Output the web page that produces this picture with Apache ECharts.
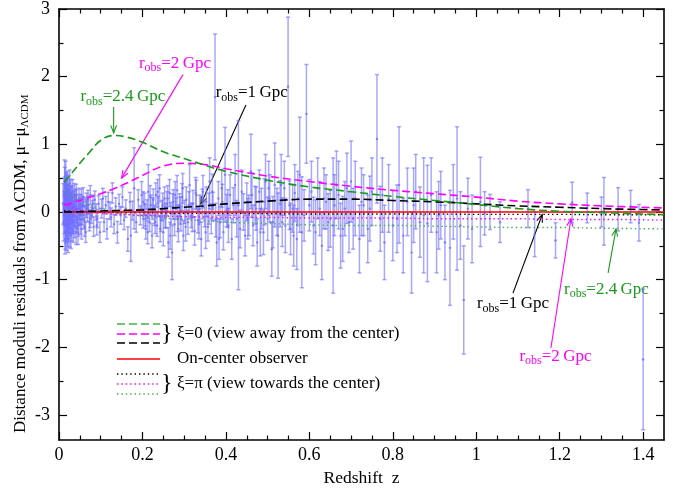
<!DOCTYPE html>
<html><head><meta charset="utf-8">
<script src="https://cdn.jsdelivr.net/npm/echarts@6/dist/echarts.min.js"></script>
<style>html,body{margin:0;padding:0;background:#fff}#c{width:688px;height:493px}</style>
</head><body><div id="c"></div>
<script>
// ---------- data ----------
const xMajor = [0, 0.2, 0.4, 0.6, 0.8, 1, 1.2, 1.4];
const xMinor = [0.05,0.1,0.15,0.25,0.3,0.35,0.45,0.5,0.55,0.65,0.7,0.75,0.85,0.9,0.95,1.05,1.1,1.15,1.25,1.3,1.35];
const yMajor = [-3, -2, -1, 0, 1, 2, 3];
const yMinor = [-2.5, -1.5, -0.5, 0.5, 1.5, 2.5];

const snZ = [
0.010,0.011,0.012,0.013,0.014,0.015,0.015,0.016,0.016,0.017,0.018,0.018,0.019,0.020,0.020,0.021,0.022,0.023,0.023,0.024,
0.025,0.026,0.026,0.027,0.028,0.029,0.030,0.031,0.032,0.033,0.034,0.035,0.036,0.037,0.038,0.040,0.041,0.042,0.044,0.045,
0.047,0.048,0.050,0.052,0.054,0.056,0.058,0.060,0.062,0.064,0.066,0.068,0.070,0.073,0.075,0.078,0.080,0.083,0.086,0.089,
0.092,0.095,0.098,
0.102,0.105,0.108,0.112,0.115,0.118,0.122,0.125,0.128,0.132,0.136,0.140,0.144,0.148,0.152,0.156,0.160,0.165,0.170,0.172,
0.176,0.180,0.185,0.190,0.195,0.198,
0.202,0.205,0.208,0.211,0.214,0.217,0.220,0.223,0.226,0.229,0.232,0.235,0.238,0.241,0.244,0.247,0.250,0.253,0.256,0.259,
0.262,0.265,0.268,0.271,0.274,0.277,0.280,0.283,0.286,0.289,0.292,0.295,0.298,0.301,0.305,0.309,0.313,0.317,0.321,0.325,
0.329,0.333,0.337,0.341,0.345,0.349,0.353,0.357,0.361,0.365,0.369,0.374,0.378,0.382,0.386,0.390,0.394,0.398,0.402,0.406,
0.410,0.414,0.418,0.422,0.426,0.430,0.434,0.438,0.442,0.446,
0.450,0.455,0.460,0.465,0.470,0.475,0.480,0.485,0.490,0.495,0.500,0.505,0.510,0.517,0.525,0.530,0.535,0.540,0.549,0.555,
0.560,0.565,0.570,0.577,0.582,0.593,0.600,0.610,0.620,0.630,0.640,0.650,0.657,0.665,0.675,0.685,0.695,0.700,0.710,0.720,
0.730,0.740,0.750,0.762,0.770,0.780,0.790,0.800,0.815,0.825,0.835,0.845,0.855,0.865,0.874,0.883,0.892,0.905,0.915,0.925,
0.937,0.945,0.954,0.962,0.970,0.980,0.990,
1.010,1.020,1.033,1.057,1.124,1.140,1.190,1.230,1.266,1.300,1.306,1.340,1.370,1.390,1.400,
0.0125,0.0135,0.0145,0.0155,0.0165,0.0175,0.0185,0.0195,0.0205,0.0215,0.0225,0.0235,0.0245,0.0255,0.0265,0.0275,0.0285,0.0295,0.0305,0.0315,
0.0325,0.0345,0.0365,0.0385,0.0395,0.0415,0.0435,0.0455,0.0475,0.0495,0.0515,0.0535,0.0555,0.0575,0.0615,0.0655,0.0695,0.0745,0.0815,0.0905,
0.2015,0.2065,0.2125,0.2185,0.2245,0.2305,0.2365,0.2425,0.2485,0.2545,0.2605,0.2665,0.2725,0.2785,0.2845,0.2905,0.2965,0.3035,0.3115,0.3195,
0.3275,0.3355,0.3435,0.3515,0.3595,0.3675,0.3755,0.3835,0.3915,0.4045,
0.4525,0.4625,0.4725,0.4825,0.4925,0.5025,0.5125,0.5225,0.5325,0.5425,0.5525,0.5625,0.5725,0.5875,0.6050,0.6150,0.6250,0.6350,0.6450,0.6600,
0.6700,0.6800,0.6900,0.7050,0.7250,0.7450,0.7750,0.8100,0.8500,0.9100
];
const snMu = [
0.12,-0.15,0.25,-0.05,0.38,-0.30,0.10,0.45,-0.20,0.05,-0.35,0.30,0.15,-0.10,0.40,-0.28,0.20,0.05,-0.18,0.32,
-0.05,0.18,-0.32,0.08,0.28,-0.12,0.12,-0.25,0.22,0.00,-0.15,0.15,-0.05,0.25,-0.22,0.08,-0.30,0.18,-0.10,0.05,
-0.20,0.20,-0.05,0.12,-0.25,0.02,0.22,-0.12,0.08,-0.30,0.15,-0.02,0.10,-0.15,0.25,-0.05,0.05,-0.22,0.18,0.00,
-0.10,0.12,-0.30,
0.05,0.20,-0.15,0.10,-0.25,0.15,0.02,-0.08,0.28,-0.18,0.08,-0.30,0.12,-0.05,0.22,-0.12,0.05,-0.40,0.15,-0.35,
0.02,0.35,-0.15,0.18,-0.05,0.25,
-0.10,0.12,-0.25,0.05,0.30,-0.15,0.10,-0.35,0.18,-0.05,0.25,-0.20,0.08,0.35,-0.12,0.02,-0.30,0.20,-0.08,0.12,
-0.45,0.28,-0.02,-0.60,0.15,-0.18,0.05,0.32,-0.25,0.10,-0.10,0.22,-0.35,0.00,0.18,-0.15,0.40,-0.05,0.12,-0.28,
0.25,-0.12,0.05,-0.40,0.30,-0.02,0.15,-0.22,0.45,-0.10,0.08,1.70,-0.45,0.20,-0.15,0.35,-0.30,0.55,0.02,-0.20,
0.25,-0.40,0.10,0.40,-0.10,0.10,-0.25,0.30,0.00,-0.35,
0.15,-0.05,0.60,-0.20,0.10,-0.45,0.30,0.05,-0.30,0.45,-0.10,0.20,-0.55,0.40,-0.35,0.12,-0.15,0.35,1.85,-0.25,
0.05,0.28,-0.40,0.55,-0.30,1.45,0.10,-0.20,0.35,-0.50,0.15,-0.10,-0.20,0.40,-0.35,0.05,-0.15,0.45,0.20,-0.40,
0.10,-0.25,0.30,1.08,-0.10,-0.45,0.20,-0.20,0.40,-0.35,0.15,-0.60,0.30,-0.15,-0.05,-0.17,0.25,-0.30,0.10,-0.45,
-0.53,0.15,0.20,-0.20,-1.30,0.05,-0.25,
0.15,-0.02,0.00,-0.15,0.05,-0.33,-0.42,0.14,0.06,0.00,0.01,0.04,0.08,-0.16,-2.18,
0.05,0.52,-0.40,0.22,-0.08,0.35,-0.22,0.02,0.28,-0.40,0.10,-0.25,0.15,0.42,-0.12,0.00,-0.35,0.20,0.05,-0.15,
0.30,-0.28,0.10,0.18,-0.08,0.25,-0.15,-0.32,0.12,0.02,-0.18,0.20,-0.05,0.10,-0.22,0.05,0.18,-0.10,0.12,-0.20,
0.15,-0.05,-0.30,0.22,0.05,-0.15,0.30,-0.25,0.10,-0.05,0.20,-0.35,0.08,0.25,-0.10,0.02,0.35,-0.22,0.10,-0.08,
0.28,-0.18,0.12,-0.30,0.05,0.30,-0.12,-0.40,0.15,0.05,
-0.10,0.25,0.05,-0.30,0.15,0.35,-0.15,0.00,0.40,-0.20,0.10,-0.35,0.20,-0.05,0.30,-0.30,0.05,0.20,-0.15,0.10,
0.25,-0.25,0.35,-0.10,0.15,0.05,0.25,-0.10,0.10,-0.05
];
const snErr = [
0.30,0.28,0.25,0.27,0.28,0.25,0.22,0.30,0.26,0.24,0.22,0.25,0.22,0.22,0.20,0.23,0.20,0.20,0.21,0.22,
0.19,0.20,0.20,0.18,0.20,0.18,0.17,0.18,0.17,0.16,0.17,0.16,0.15,0.17,0.16,0.15,0.18,0.15,0.15,0.14,
0.16,0.15,0.14,0.14,0.15,0.13,0.14,0.13,0.13,0.15,0.13,0.12,0.13,0.13,0.14,0.12,0.12,0.14,0.13,0.12,
0.13,0.12,0.15,
0.14,0.15,0.14,0.13,0.15,0.14,0.13,0.14,0.15,0.14,0.13,0.16,0.14,0.13,0.15,0.14,0.13,0.18,0.14,0.38,
0.14,0.60,0.15,0.15,0.14,0.20,
0.14,0.16,0.15,0.13,0.40,0.14,0.15,0.18,0.16,0.15,0.18,0.16,0.15,0.20,0.17,0.15,0.20,0.17,0.16,0.18,
0.22,0.20,0.16,0.40,0.18,0.17,0.16,0.22,0.19,0.17,0.18,0.20,0.22,0.17,0.19,0.18,0.30,0.18,0.20,0.21,
0.22,0.19,0.20,0.25,0.24,0.20,0.22,0.21,0.35,0.22,0.21,0.93,0.35,0.25,0.23,0.28,0.26,0.70,0.24,0.25,
0.30,0.30,0.26,0.45,0.27,1.25,0.28,0.32,0.27,0.30,
0.28,0.30,0.55,0.30,0.28,0.35,0.32,0.30,0.33,0.40,0.32,0.35,0.40,0.62,0.63,0.34,0.36,0.40,1.03,0.38,
0.35,0.42,0.45,0.85,0.82,0.73,0.38,0.42,0.45,0.50,0.40,0.42,1.00,0.50,0.48,0.40,0.45,0.60,0.55,0.50,
0.45,0.50,0.50,0.95,0.48,0.55,0.50,0.52,0.86,0.55,0.50,0.60,0.55,0.52,0.85,0.86,0.55,0.60,0.50,0.55,
0.85,0.55,1.06,0.50,0.80,0.45,0.50,
0.66,0.32,0.26,0.30,0.28,0.33,0.26,0.30,0.22,0.22,0.50,0.32,0.24,0.27,1.04,
0.25,0.25,0.22,0.24,0.22,0.23,0.21,0.20,0.22,0.20,0.20,0.19,0.19,0.20,0.18,0.18,0.19,0.17,0.17,0.17,
0.18,0.17,0.16,0.16,0.15,0.16,0.15,0.16,0.14,0.14,0.15,0.14,0.14,0.13,0.14,0.13,0.14,0.13,0.13,0.14,
0.15,0.16,0.17,0.17,0.16,0.17,0.18,0.19,0.18,0.18,0.19,0.20,0.19,0.20,0.19,0.20,0.22,0.21,0.20,0.21,
0.23,0.22,0.22,0.24,0.23,0.26,0.25,0.30,0.26,0.28,
0.30,0.33,0.32,0.35,0.34,0.40,0.38,0.35,0.45,0.40,0.36,0.45,0.40,0.38,0.45,0.48,0.40,0.45,0.42,0.45,
0.50,0.48,0.52,0.45,0.50,0.48,0.55,0.50,0.55,0.50
];

// model curves
const curveZ = [0.012,0.03,0.05,0.07,0.10,0.13,0.16,0.20,0.25,0.30,0.35,0.40,0.50,0.60,0.70,0.80,0.90,1.00,1.10,1.20,1.30,1.45];
const away24 = [0.44,0.57,0.72,0.86,1.06,1.13,1.11,1.03,0.89,0.79,0.69,0.60,0.47,0.37,0.30,0.23,0.17,0.11,0.05,0.01,-0.01,-0.04];
const away20 = [0.10,0.13,0.17,0.21,0.27,0.34,0.42,0.54,0.68,0.72,0.70,0.64,0.53,0.45,0.38,0.32,0.27,0.22,0.16,0.12,0.09,0.06];
const away10 = [0.00,0.00,0.005,0.01,0.015,0.02,0.025,0.03,0.05,0.07,0.09,0.12,0.16,0.19,0.19,0.17,0.15,0.12,0.09,0.07,0.05,0.03];
const center = [0,0,0,0,0,0,0,0,0,0,0,0,0,0,0,0,0,0,0,0,0,0];
const tow10 = [0.02,0.01,0.00,0.00,-0.005,-0.01,-0.01,-0.01,-0.015,-0.02,-0.02,-0.02,-0.025,-0.03,-0.03,-0.03,-0.03,-0.035,-0.035,-0.035,-0.04,-0.04];
const tow20 = [0.13,0.07,0.03,0.00,-0.02,-0.03,-0.04,-0.05,-0.06,-0.07,-0.075,-0.08,-0.08,-0.09,-0.09,-0.09,-0.10,-0.10,-0.10,-0.11,-0.11,-0.12];
const tow24 = [0.32,0.24,0.17,0.11,0.05,0.00,-0.03,-0.06,-0.09,-0.11,-0.13,-0.15,-0.17,-0.19,-0.20,-0.20,-0.21,-0.22,-0.23,-0.23,-0.24,-0.25];

// annotation labels
const annLabels = ['2.4', '2', '1', '1', '2', '2.4'];

// ---------- styles ----------
const FF = '"Liberation Serif","DejaVu Serif",serif';
const GREEN = '#1a9a1a', MAG = '#ff00ff', BLK = '#000000', RED = '#ff0000';
const GREEN_L = '#44b044';
const DASH = [8, 4], DOT = [1.4, 3];

const annLayout = [
  {color: GREEN, text: [0.153, 1.70], tail: [0.131, 1.55], tip: [0.131, 1.17]},
  {color: MAG,   text: [0.278, 2.20], tail: [0.297, 2.03], tip: [0.150, 0.50]},
  {color: BLK,   text: [0.462, 1.76], tail: [0.448, 1.58], tip: [0.340, 0.12]},
  {color: BLK,   text: [1.088, -1.36], tail: [1.088, -1.20], tip: [1.158, -0.04]},
  {color: MAG,   text: [1.190, -2.14], tail: [1.179, -2.01], tip: [1.227, -0.10]},
  {color: GREEN, text: [1.312, -1.15], tail: [1.316, -0.90], tip: [1.335, -0.25]}
];

const chart = echarts.init(document.getElementById('c'), null, {renderer: 'canvas'});

function pairs(ys){ return curveZ.map((z,i)=>[z, ys[i]]); }
function lineSeries(ys, color, dash, w){
  return {type:'line', data: pairs(ys), showSymbol:false, smooth:0.4, z:5,
    lineStyle:{color, type: dash || 'solid', width: w || 1.5}, silent:true, animation:false};
}

function errRender(params, api){
  const z = api.value(0), m = api.value(1), e = api.value(2);
  const t = api.coord([z, m+e]), b = api.coord([z, m-e]), c = api.coord([z, m]);
  const st = {stroke:'rgba(110,110,255,0.6)', lineWidth:1.5};
  return {type:'group', children:[
    {type:'line', shape:{x1:t[0],y1:t[1],x2:b[0],y2:b[1]}, style:st},
    {type:'line', shape:{x1:t[0]-2,y1:t[1],x2:t[0]+2,y2:t[1]}, style:st},
    {type:'line', shape:{x1:b[0]-2,y1:b[1],x2:b[0]+2,y2:b[1]}, style:st},
    {type:'circle', shape:{cx:c[0],cy:c[1],r:1.2}, style:{fill:'rgba(110,110,255,0.8)'}}
  ]};
}

const tickStyle = {color:'#000', width:1.2};
function xAx(pos, major, label){
  return {type:'value', min:0, max:1.45, position:pos, gridIndex:0,
    axisLine:{show: major, onZero:false, lineStyle:{color:'#000', width:1.6}},
    axisTick:{show:true, inside:true, length: major?8:4.5, customValues: major?xMajor:xMinor, lineStyle:tickStyle},
    axisLabel: label ? {show:true, customValues:xMajor, fontFamily:FF, fontSize:18, color:'#000', margin:6,
      formatter:v=>String(+v.toFixed(2))} : {show:false},
    splitLine:{show:false}, minorTick:{show:false},
    name: label ? 'Redshift  z' : '', nameLocation:'middle', nameGap:29,
    nameTextStyle:{fontFamily:FF, fontSize:17.5, color:'#000'}};
}
function yAx(pos, major, label){
  return {type:'value', min:-3.37, max:3, position:pos, gridIndex:0,
    axisLine:{show: major, onZero:false, lineStyle:{color:'#000', width:1.6}},
    axisTick:{show:true, inside:true, length: major?8:4.5, customValues: major?yMajor:yMinor, lineStyle:tickStyle},
    axisLabel: label ? {show:true, customValues:yMajor, fontFamily:FF, fontSize:18, color:'#000', margin:9,
      formatter:v=>String(Math.round(v))} : {show:false},
    splitLine:{show:false}, minorTick:{show:false}};
}

chart.setOption({
  animation:false,
  backgroundColor:'#fff',
  grid:{left:59, right:24, top:9, bottom:53, containLabel:false, outerBoundsMode:'none'},
  xAxis:[xAx('bottom',true,true), xAx('bottom',false,false), xAx('top',true,false), xAx('top',false,false)],
  yAxis:[yAx('left',true,true), yAx('left',false,false), yAx('right',true,false), yAx('right',false,false)],
  series:[
    {type:'custom', renderItem:errRender, data: snZ.map((z,i)=>[z, snMu[i], snErr[i]]),
      encode:{x:0, y:1}, z:2, silent:true, animation:false},
    lineSeries(tow24, GREEN_L, DOT, 1.4),
    lineSeries(tow20, MAG, DOT, 1.4),
    lineSeries(tow10, BLK, DOT, 1.4),
    lineSeries(center, RED, 'solid', 1.6),
    lineSeries(away10, BLK, DASH, 1.6),
    lineSeries(away20, MAG, DASH, 1.6),
    lineSeries(away24, GREEN, DASH, 1.6)
  ]
});

// ---------- annotations (data coords -> pixels) ----------
const g = [];
function P(p){ return chart.convertToPixel({xAxisIndex:0, yAxisIndex:0}, p); }
annLayout.forEach((a, i) => {
  const tp = P(a.text), tl = P(a.tail), tip = P(a.tip);
  g.push({type:'text', x:tp[0], y:tp[1], silent:true, style:{
    text:'{r|r}{s|obs}{r|=' + annLabels[i] + '\u2009Gpc}', align:'center', verticalAlign:'middle', fill:a.color,
    rich:{r:{fontFamily:FF, fontSize:17, fill:a.color, color:a.color},
          s:{fontFamily:FF, fontSize:12, fill:a.color, color:a.color, padding:[9,0,0,0]}}}});
  g.push({type:'line', silent:true, shape:{x1:tl[0], y1:tl[1], x2:tip[0], y2:tip[1]}, style:{stroke:a.color, lineWidth:1.1}});
  const ang = Math.atan2(tip[1]-tl[1], tip[0]-tl[0]);
  const L = 8, s = 0.38;
  const p1 = [tip[0]-L*Math.cos(ang-s), tip[1]-L*Math.sin(ang-s)];
  const p2 = [tip[0]-L*Math.cos(ang+s), tip[1]-L*Math.sin(ang+s)];
  g.push({type:'polyline', silent:true, shape:{points:[p1, tip, p2]}, style:{stroke:a.color, fill:null, lineWidth:1.1}});
});

// y-axis title (rotated, starts near the bottom and reads upward)
g.push({type:'text', silent:true, x:21, y:433, rotation:Math.PI/2, style:{
  text:'{t|Distance moduli residuals from ΛCDM, μ−μ}{s|ΛCDM}', align:'left', verticalAlign:'middle', fill:'#000',
  rich:{t:{fontFamily:FF, fontSize:17, fill:'#000'}, s:{fontFamily:FF, fontSize:11, fill:'#000', padding:[9,0,0,0]}}}});

// ---------- legend (static) ----------
const legRows = [
  {y:324, c:GREEN_L, d:DASH}, {y:334, c:MAG, d:DASH}, {y:343, c:BLK, d:DASH},
  {y:359, c:RED, d:null}, {y:374, c:BLK, d:DOT}, {y:384, c:MAG, d:DOT}, {y:394, c:GREEN_L, d:DOT}
];
legRows.forEach(r => g.push({type:'line', silent:true, shape:{x1:117, y1:r.y, x2:160, y2:r.y},
  style:{stroke:r.c, lineWidth:1.4, lineDash:r.d || null}}));
const legTexts = [
  {x:161, y:334, t:'}', fs:24}, {x:177, y:334, t:'ξ=0 (view away from the center)', fs:17},
  {x:177, y:359, t:'On-center observer', fs:17},
  {x:161, y:384, t:'}', fs:24}, {x:177, y:384, t:'ξ=π (view towards the center)', fs:17}
];
legTexts.forEach(t => g.push({type:'text', silent:true, x:t.x, y:t.y, style:{text:t.t, fill:'#000',
  font: t.fs + 'px ' + FF, align:'left', verticalAlign:'middle'}}));

chart.setOption({graphic: g});
</script></body></html>
